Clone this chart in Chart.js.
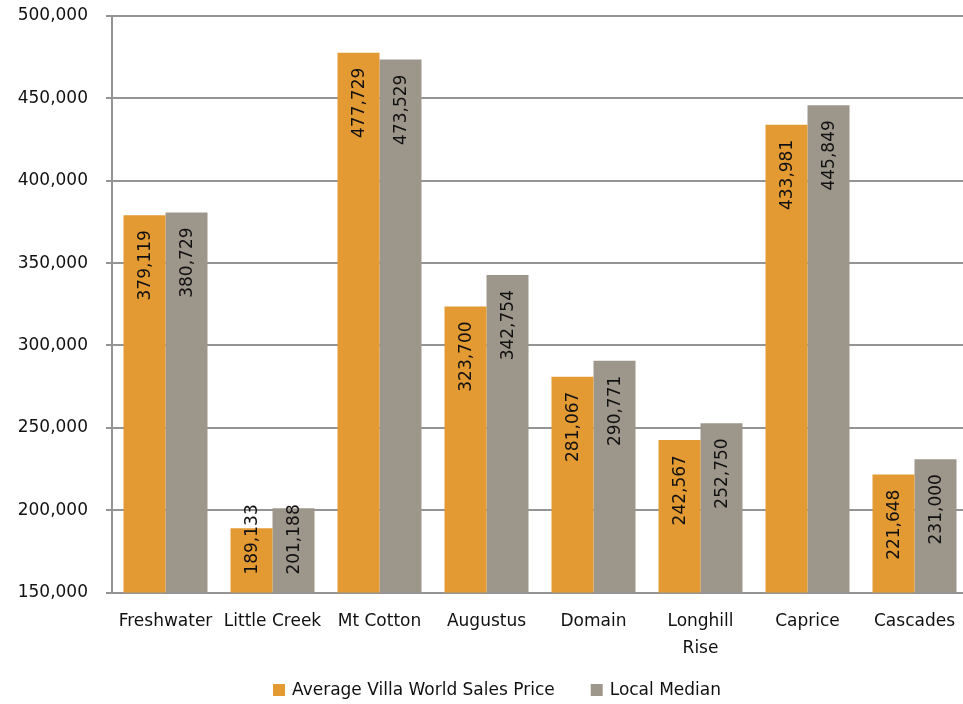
<!DOCTYPE html>
<html>
<head>
<meta charset="utf-8">
<title>Average Villa World Sales Price vs Local Median</title>
<script src="https://cdn.jsdelivr.net/npm/chart.js@4/dist/chart.umd.min.js"></script>
<style>
  html, body { margin: 0; padding: 0; background: #ffffff; overflow: hidden; }
  #wrap { position: relative; width: 963px; height: 704px; overflow: hidden; }
</style>
</head>
<body>
<!-- the plot runs a few pixels past the right edge of the visible frame -->
<div id="wrap"><canvas id="chart" width="971" height="704"></canvas></div>
<script>
// Suburbs compared
const suburbs = ['Freshwater', 'Little Creek', 'Mt Cotton', 'Augustus', 'Domain', ['Longhill', 'Rise'], 'Caprice', 'Cascades'];

// Series values
const villaWorldAvg = [379119, 189133, 477729, 323700, 281067, 242567, 433981, 221648];
const localMedian   = [380729, 201188, 473529, 342754, 290771, 252750, 445849, 231000];

// Value axis ticks
const yMin = 150000;
const yMax = 500000;
const yStep = 50000;

const FONT = 'DejaVu Sans';
const TEXT = '#111111';
const fmt = v => Number(v).toLocaleString('en-US');

// Rotated value labels placed just inside the top of each bar
const barValueLabels = {
  id: 'barValueLabels',
  afterDatasetsDraw(chart) {
    const ctx = chart.ctx;
    const floor = chart.chartArea.bottom;
    ctx.save();
    ctx.font = '17px "' + FONT + '"';
    ctx.fillStyle = TEXT;
    ctx.textAlign = 'right';
    ctx.textBaseline = 'middle';
    chart.data.datasets.forEach((ds, di) => {
      const meta = chart.getDatasetMeta(di);
      meta.data.forEach((bar, i) => {
        const text = fmt(ds.data[i]);
        const w = ctx.measureText(text).width;
        const base = Math.min(bar.base, floor);
        let top = bar.y + 15;
        if (top + w > base - 18) top = base - 18 - w;
        ctx.save();
        ctx.translate(bar.x + 1, top);
        ctx.rotate(-Math.PI / 2);
        ctx.fillText(text, 0, 0);
        ctx.restore();
      });
    });
    ctx.restore();
  }
};

// Legend row along the bottom edge
const bottomLegend = {
  id: 'bottomLegend',
  afterDraw(chart) {
    const ctx = chart.ctx;
    const box = 12, gapText = 7, gapItem = 36, cy = 690, startX = 273;
    ctx.save();
    ctx.font = '17px "' + FONT + '"';
    ctx.textBaseline = 'middle';
    ctx.textAlign = 'left';
    let x = startX;
    chart.data.datasets.forEach(ds => {
      ctx.fillStyle = ds.backgroundColor;
      ctx.fillRect(x, cy - box / 2, box, box);
      x += box + gapText;
      ctx.fillStyle = TEXT;
      ctx.fillText(ds.label, x, cy + 1);
      x += ctx.measureText(ds.label).width + gapItem;
    });
    ctx.restore();
  }
};

new Chart(document.getElementById('chart'), {
  type: 'bar',
  data: {
    labels: suburbs,
    datasets: [
      {
        label: 'Average Villa World Sales Price',
        data: villaWorldAvg,
        backgroundColor: '#E39A33'
      },
      {
        label: 'Local Median',
        data: localMedian,
        backgroundColor: '#9D968B'
      }
    ]
  },
  options: {
    responsive: false,
    animation: false,
    events: [],
    layout: { padding: { left: 0, right: 3, top: 16, bottom: 27 } },
    datasets: {
      bar: { categoryPercentage: 0.785, barPercentage: 1.0 }
    },
    plugins: {
      legend: { display: false },
      tooltip: { enabled: false }
    },
    scales: {
      x: {
        grid: { display: false, drawTicks: false },
        border: { display: true, color: '#949494', width: 2 },
        ticks: {
          font: { family: FONT, size: 17, lineHeight: 1.6 },
          color: TEXT,
          padding: 15,
          maxRotation: 0,
          autoSkip: false
        },
        afterFit(scale) {
          scale.paddingLeft = 0;
          scale.paddingRight = 0;
        }
      },
      y: {
        min: yMin,
        max: yMax,
        grid: { color: '#949494', lineWidth: 2, tickLength: 6 },
        border: { display: true, color: '#949494', width: 2 },
        ticks: {
          stepSize: yStep,
          font: { family: FONT, size: 17 },
          color: TEXT,
          padding: 18,
          callback: v => fmt(v)
        },
        afterFit(scale) {
          scale.width = 112;
          scale.paddingTop = 0;
          scale.paddingBottom = 0;
        }
      }
    }
  },
  plugins: [barValueLabels, bottomLegend]
});
</script>
</body>
</html>
